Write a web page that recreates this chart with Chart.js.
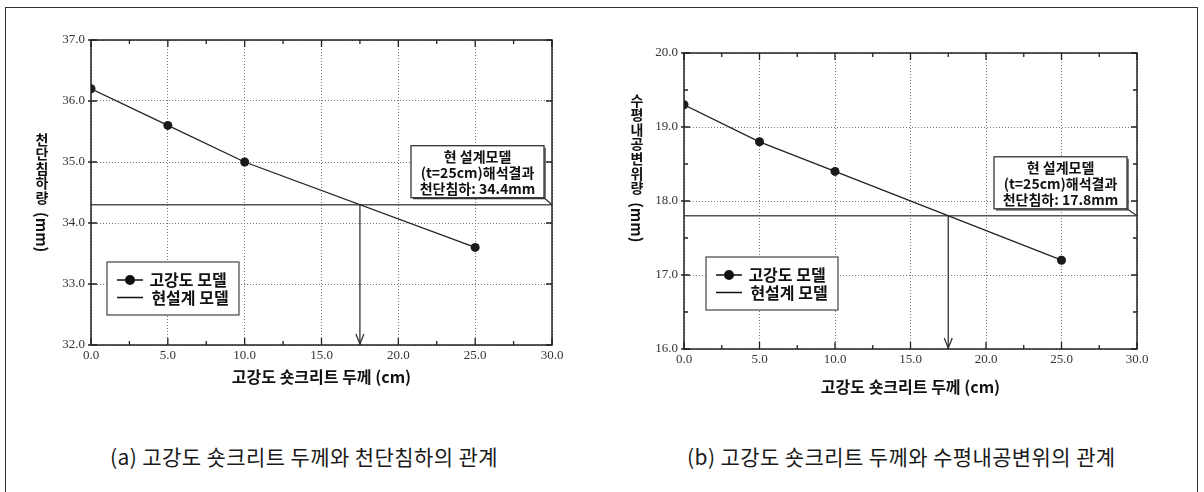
<!DOCTYPE html>
<html>
<head>
<meta charset="utf-8">
<script src="https://cdn.jsdelivr.net/npm/chart.js@4.4.0/dist/chart.umd.min.js"></script>
<style>
body { margin: 0; background: #fff; }
#wrap { position: relative; width: 1204px; height: 492px; overflow: hidden; background: #fff; }
#frame { position: absolute; left: 5px; top: 7px; width: 1193px; height: 520px; border: 1.5px solid #333; box-sizing: border-box; }
.cv { position: absolute; top: 0; }
.cap { position: absolute; top: 443px; font: 21px "Noto Sans CJK KR"; line-height: 26px; letter-spacing: 0.4px; color: #1a1a1a; white-space: nowrap; }
</style>
</head>
<body>
<div id="wrap">
  <div id="frame"></div>
  <canvas id="chartA" class="cv" style="left:0" width="600" height="400"></canvas>
  <canvas id="chartB" class="cv" style="left:600px" width="604" height="400"></canvas>
  <div class="cap" style="left:110px">(a) 고강도 숏크리트 두께와 천단침하의 관계</div>
  <div class="cap" style="left:687px">(b) 고강도 숏크리트 두께와 수평내공변위의 관계</div>
</div>
<script>
// shotcrete thickness (cm)
const thickness = [0, 5, 10, 25];
// (a) crown settlement (mm)
const crownSettlement = [36.2, 35.6, 35.0, 33.6];
// (b) horizontal convergence (mm)
const convergence = [19.3, 18.8, 18.4, 17.2];
// current design model results (t=25cm)
const designSettlement = 34.3;
const designConvergence = 17.8;
const equivThickness = [17.5, 17.5];
const xRange = [0, 30];
const yRangeA = [32, 37];
const yRangeB = [16, 20];

const seriesLabels = ['고강도 모델', '현설계 모델'];
const xTitle = '고강도 숏크리트 두께 (cm)';

Chart.defaults.font.family = '"Noto Sans CJK KR"';

const tickFont = { family: '"Liberation Serif"', size: 13 };

const extras = {
  id: 'extras',
  afterDraw(chart) {
    const o = chart.options.plugins.extras;
    const ctx = chart.ctx;
    const a = chart.chartArea;
    const xs = chart.scales.x, ys = chart.scales.y;
    ctx.save();

    // frame + inward ticks
    ctx.strokeStyle = '#222';
    ctx.lineWidth = 1.5;
    ctx.strokeRect(a.left, a.top, a.right - a.left, a.bottom - a.top);
    ctx.lineWidth = 1.3;
    ctx.beginPath();
    xs.ticks.forEach((t, i) => {
      const px = xs.getPixelForValue(t.value);
      ctx.moveTo(px, a.bottom); ctx.lineTo(px, a.bottom - 7);
      ctx.moveTo(px, a.top); ctx.lineTo(px, a.top + 7);
      if (i < xs.ticks.length - 1) {
        const mx = xs.getPixelForValue((t.value + xs.ticks[i + 1].value) / 2);
        ctx.moveTo(mx, a.bottom); ctx.lineTo(mx, a.bottom - 4);
        ctx.moveTo(mx, a.top); ctx.lineTo(mx, a.top + 4);
      }
    });
    ys.ticks.forEach((t, i) => {
      const py = ys.getPixelForValue(t.value);
      ctx.moveTo(a.left - 3, py); ctx.lineTo(a.left + 6, py);
      ctx.moveTo(a.right, py); ctx.lineTo(a.right - 6, py);
      if (o.yMinor && i < ys.ticks.length - 1) {
        const my = ys.getPixelForValue((t.value + ys.ticks[i + 1].value) / 2);
        ctx.moveTo(a.left, my); ctx.lineTo(a.left + 4, my);
        ctx.moveTo(a.right, my); ctx.lineTo(a.right - 4, my);
      }
    });
    ctx.stroke();

    // arrow head at the axis
    const ax = xs.getPixelForValue(equivThickness[0]);
    ctx.strokeStyle = '#333';
    ctx.lineWidth = 1.3;
    ctx.beginPath();
    ctx.moveTo(ax - 4, a.bottom - 11);
    ctx.lineTo(ax, a.bottom - 1);
    ctx.lineTo(ax + 4, a.bottom - 11);
    ctx.stroke();

    // note box tied to the design line
    const ly = ys.getPixelForValue(o.refValue);
    const bw = 133, bh = 52;
    const br = a.right - o.noteGap, bb = ly - 7;
    const bl = br - bw, bt = bb - bh;
    ctx.fillStyle = '#fff';
    ctx.fillRect(bl, bt, bw, bh);
    ctx.strokeStyle = '#333';
    ctx.lineWidth = 1.3;
    ctx.strokeRect(bl, bt, bw, bh);
    ctx.beginPath();
    ctx.moveTo(bl + 2, bb + 1); ctx.lineTo(br + 1, bb + 1); ctx.lineTo(br + 1, bt + 2);
    ctx.moveTo(br, bb); ctx.lineTo(a.right, ly);
    ctx.stroke();
    ctx.fillStyle = '#111';
    ctx.font = 'bold 14px "Noto Sans CJK KR"';
    ctx.textAlign = 'center';
    ctx.textBaseline = 'middle';
    o.note.forEach((line, i) => ctx.fillText(line, bl + bw / 2, bt + 11 + i * 16));

    // legend box
    const lx = a.left + o.legend.dx, lt = a.top + o.legend.dy;
    ctx.fillStyle = '#fff';
    ctx.fillRect(lx, lt, 132, 53);
    ctx.strokeStyle = '#444';
    ctx.lineWidth = 1.2;
    ctx.strokeRect(lx, lt, 132, 53);
    ctx.strokeStyle = '#111';
    ctx.lineWidth = 1.6;
    ctx.beginPath();
    ctx.moveTo(lx + 10, lt + 18); ctx.lineTo(lx + 36, lt + 18);
    ctx.moveTo(lx + 10, lt + 35.5); ctx.lineTo(lx + 36, lt + 35.5);
    ctx.stroke();
    ctx.fillStyle = '#111';
    ctx.beginPath();
    ctx.arc(lx + 23, lt + 18, 5, 0, Math.PI * 2);
    ctx.fill();
    ctx.font = 'bold 16px "Noto Sans CJK KR"';
    ctx.fillText(seriesLabels[0], lx + 81, lt + 18);
    ctx.fillText(seriesLabels[1], lx + 83, lt + 35.5);

    // stacked vertical y title
    const tx = o.yTitle.x;
    let ty = a.top + o.yTitle.dy + 7.3;
    ctx.font = 'bold 14px "Noto Sans CJK KR"';
    for (const ch of o.yTitle.chars) {
      ctx.fillText(ch, tx, ty);
      ty += 14.6;
    }
    ctx.font = 'bold 15px "Noto Sans CJK KR"';
    const uw = ctx.measureText('(mm)').width;
    ctx.translate(tx, ty - 7.3 + 7 + uw / 2);
    ctx.rotate(Math.PI / 2);
    ctx.fillText('(mm)', 0, 0);
    ctx.restore();
  }
};

function makeChart(id, values, refValue, yRange, cfg) {
  const pts = thickness.map((x, i) => ({ x, y: values[i] }));
  return new Chart(document.getElementById(id), {
    type: 'line',
    data: {
      datasets: [
        {
          label: seriesLabels[0],
          data: pts,
          borderColor: '#222',
          borderWidth: 1.3,
          pointRadius: 4.5,
          pointBackgroundColor: '#1a1a1a',
          pointBorderWidth: 0
        },
        {
          label: seriesLabels[1],
          data: xRange.map(x => ({ x, y: refValue })),
          borderColor: '#555',
          borderWidth: 1.4,
          pointRadius: 0
        },
        {
          label: 'arrow',
          data: [{ x: equivThickness[0], y: refValue }, { x: equivThickness[1], y: yRange[0] }],
          borderColor: '#333',
          borderWidth: 1.3,
          pointRadius: 0
        }
      ]
    },
    options: {
      responsive: false,
      animation: false,
      layout: { padding: cfg.padding },
      plugins: {
        legend: { display: false },
        tooltip: { enabled: false },
        extras: cfg.extras
      },
      scales: {
        x: {
          type: 'linear',
          min: xRange[0],
          max: xRange[1],
          ticks: { stepSize: 5, callback: v => v.toFixed(1), font: tickFont, color: '#333', padding: 3, maxRotation: 0 },
          grid: { color: '#777', drawTicks: false, lineWidth: 1 },
          border: { display: false, dash: [1, 2] },
          title: {
            display: true,
            text: xTitle,
            color: '#111',
            font: { size: 16, weight: 'bold' },
            padding: { top: 0, bottom: cfg.xTitlePad }
          },
          afterFit: s => { s.height = cfg.xHeight; }
        },
        y: {
          min: yRange[0],
          max: yRange[1],
          ticks: { stepSize: 1, callback: v => v.toFixed(1), font: tickFont, color: '#333', padding: 6 },
          grid: { color: '#777', drawTicks: false, lineWidth: 1 },
          border: { display: false, dash: [1, 2] },
          afterFit: s => { s.width = cfg.yWidth; }
        }
      }
    },
    plugins: [extras]
  });
}

makeChart('chartA', crownSettlement, designSettlement, yRangeA, {
  padding: { top: 40, right: 48, left: 0, bottom: 0 },
  yWidth: 91,
  xHeight: 55,
  xTitlePad: 13.4,
  extras: {
    refValue: designSettlement,
    yMinor: false,
    noteGap: 8,
    note: ['현 설계모델', '(t=25cm)해석결과', '천단침하: 34.4mm'],
    legend: { dx: 16, dy: 222 },
    yTitle: { x: 42, dy: 92, chars: ['천', '단', '침', '하', '량'] }
  }
});

makeChart('chartB', convergence, designConvergence, yRangeB, {
  padding: { top: 53, right: 67, left: 0, bottom: 0 },
  yWidth: 84,
  xHeight: 51,
  xTitlePad: 3.4,
  extras: {
    refValue: designConvergence,
    yMinor: true,
    noteGap: 10,
    note: ['현 설계모델', '(t=25cm)해석결과', '천단침하: 17.8mm'],
    legend: { dx: 22, dy: 204 },
    yTitle: { x: 37, dy: 40, chars: ['수', '평', '내', '공', '변', '위', '량'] }
  }
});
</script>
</body>
</html>
